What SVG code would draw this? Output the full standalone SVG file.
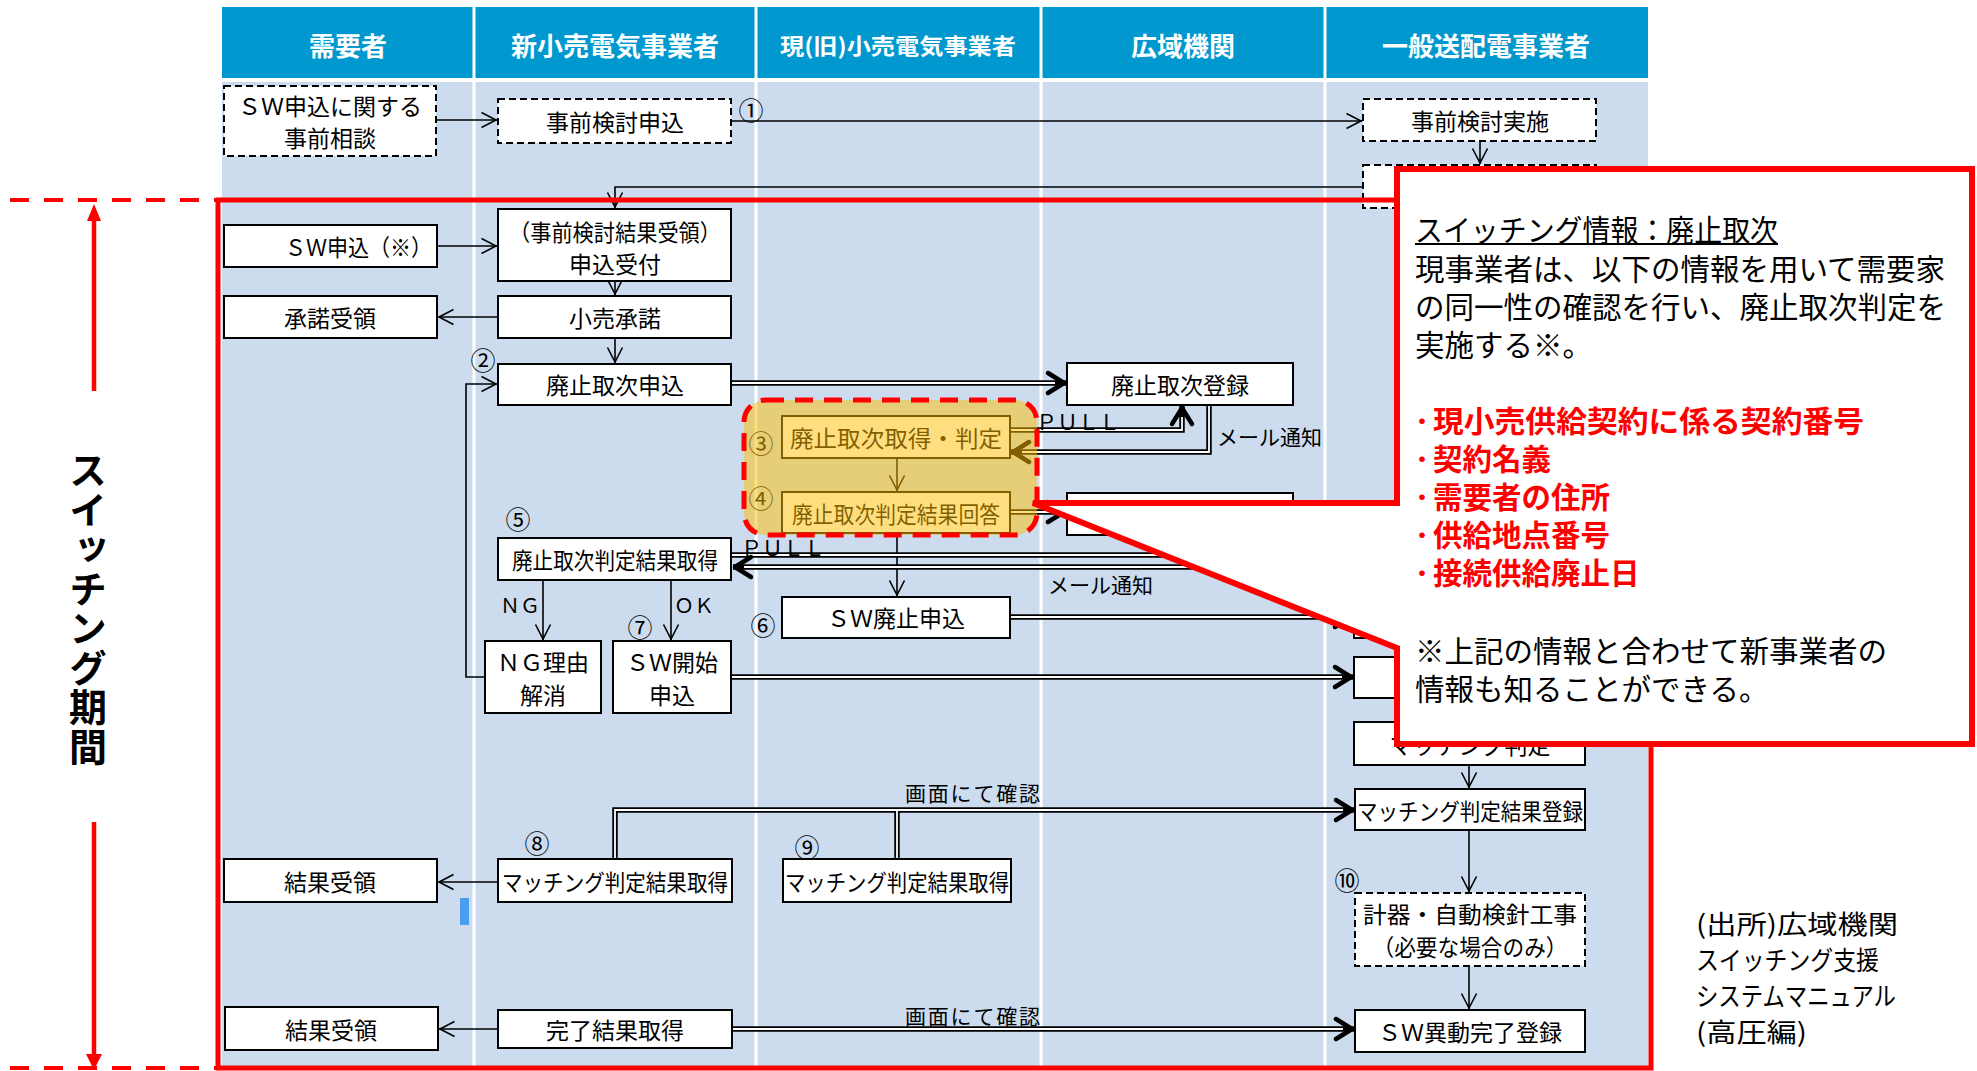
<svg xmlns="http://www.w3.org/2000/svg" width="1977" height="1071" viewBox="0 0 1977 1071">
<defs>
<style>
text{font-family:"Noto Sans CJK JP","Noto Sans",sans-serif;}
.t{font-size:23px;fill:#000;text-anchor:middle;dominant-baseline:central}
.tl{font-size:21px;fill:#000;dominant-baseline:central}
.c{font-size:25px;fill:#000;text-anchor:middle;dominant-baseline:central}
.hd{font-size:26px;font-weight:bold;fill:#fff;text-anchor:middle;dominant-baseline:central}
.bx{fill:#fff;stroke:#000;stroke-width:2}
.dx{fill:#fff;stroke:#000;stroke-width:2;stroke-dasharray:7 4}
.ln{fill:none;stroke:#000;stroke-width:1.6;marker-end:url(#ah)}
.db{fill:none;stroke:#000;stroke-width:5.5}
.dw{fill:none;stroke:#fff;stroke-width:1.8}
.sep{stroke:#fff;stroke-width:3}
.co{font-size:29.5px;fill:#000;dominant-baseline:central}
.cr{font-size:29.5px;font-weight:bold;fill:#f00;dominant-baseline:central}
.dot{font-size:22px}
.src{font-size:26px;fill:#000;dominant-baseline:central}
.lbl{font-size:38px;font-weight:bold;fill:#000;writing-mode:vertical-rl;letter-spacing:1.5px}
</style>
<marker id="ah" markerUnits="userSpaceOnUse" markerWidth="20" markerHeight="20" refX="16" refY="8" orient="auto" overflow="visible">
<path d="M0.5,0.5 L15,8 L0.5,15.5" fill="none" stroke="#000" stroke-width="1.6"/>
</marker>
<marker id="ab" markerUnits="userSpaceOnUse" markerWidth="26" markerHeight="26" refX="19" refY="11" orient="auto" overflow="visible">
<path d="M1,1 L17,11 L1,21" fill="none" stroke="#000" stroke-width="4.5" stroke-linecap="round" stroke-linejoin="round"/>
</marker>
</defs>

<rect x="0" y="0" width="1977" height="1071" fill="#fff"/>

<g id="lanes">
<rect x="222" y="7" width="1426" height="71" fill="#0098CE"/>
<rect x="222" y="82" width="1426" height="986" fill="#CCDCEE"/>
<path class="sep" d="M474,7 V1068 M756,7 V1068 M1041,7 V1068 M1325,7 V1068"/>
<text class="hd" x="348" y="44">需要者</text>
<text class="hd" x="615" y="44">新小売電気事業者</text>
<text class="hd" x="898" y="44" style="font-size:22px" textLength="236" lengthAdjust="spacingAndGlyphs">現(旧)小売電気事業者</text>
<text class="hd" x="1183" y="44">広域機関</text>
<text class="hd" x="1486" y="44">一般送配電事業者</text>
</g>

<g id="connectors">
<path class="ln" d="M437,120 H497"/>
<path class="ln" d="M731,121 H1362"/>
<path class="ln" d="M1480,141 V164"/>
<path class="ln" d="M1363,187 H615 V208"/>
<path class="ln" d="M437,246 H497"/>
<path class="ln" d="M615,281 V295"/>
<path class="ln" d="M498,317 H438"/>
<path class="ln" d="M615,338 V363"/>
<path class="ln" d="M485,677 H466 V384 H497"/>
<path class="ln" d="M543,580 V640"/>
<path class="ln" d="M671,580 V640"/>
<path class="ln" d="M897,458 V491"/>
<path class="ln" d="M897,533 V596"/>
<path class="ln" d="M498,882 H438"/>
<path class="ln" d="M1469,765 V788"/>
<path class="ln" d="M1469,830 V892"/>
<path class="ln" d="M1469,966 V1009"/>
<path class="ln" d="M498,1029 H439"/>

<path class="db" marker-end="url(#ab)" d="M732,383 H1066"/><path class="dw" d="M732,383 H1055"/>
<path class="db" marker-end="url(#ab)" d="M1010,430 H1182 V406"/><path class="dw" d="M1010,430 H1182 V417"/>
<path class="db" marker-end="url(#ab)" d="M1209,405 V452 H1011"/><path class="dw" d="M1209,405 V452 H1022"/>
<path class="db" marker-end="url(#ab)" d="M1010,512 H1066"/><path class="dw" d="M1010,512 H1055"/>
<path class="db" d="M1420,555 H732"/><path class="dw" d="M1420,555 H732"/>
<path class="db" marker-end="url(#ab)" d="M1420,567 H733"/><path class="dw" d="M1420,567 H744"/>
<path class="db" marker-end="url(#ab)" d="M1010,617 H1353"/><path class="dw" d="M1010,617 H1342"/>
<path class="db" marker-end="url(#ab)" d="M731,677 H1353"/><path class="dw" d="M731,677 H1342"/>
<path class="db" marker-end="url(#ab)" d="M615,859 V810 H1354"/><path class="db" d="M897,859 V810"/>
<path class="dw" d="M615,859 V810 H1343"/><path class="dw" d="M897,859 V810"/>
<path class="db" marker-end="url(#ab)" d="M732,1029 H1354"/><path class="dw" d="M732,1029 H1343"/>
</g>

<g id="n1"><rect class="dx" x="224" y="86" width="212" height="70"/><text class="t" x="330" y="105">ＳＷ申込に関する</text><text class="t" x="330" y="137">事前相談</text></g>
<g id="n2"><rect class="dx" x="498" y="99" width="233" height="44"/><text class="t" x="615" y="121">事前検討申込</text></g>
<g id="n3"><rect class="dx" x="1363" y="99" width="233" height="42"/><text class="t" x="1480" y="120">事前検討実施</text></g>
<g id="n4"><rect class="dx" x="1363" y="165" width="233" height="43"/></g>
<g id="n5"><rect class="bx" x="224" y="225" width="213" height="42"/><text class="t" x="285" y="246" style="text-anchor:start" textLength="147" lengthAdjust="spacingAndGlyphs">ＳＷ申込（※）</text></g>
<g id="n6"><rect class="bx" x="498" y="209" width="233" height="72"/><text class="t" x="615" y="231" textLength="212" lengthAdjust="spacingAndGlyphs">（事前検討結果受領）</text><text class="t" x="615" y="263">申込受付</text></g>
<g id="n7"><rect class="bx" x="224" y="296" width="213" height="42"/><text class="t" x="330" y="317">承諾受領</text></g>
<g id="n8"><rect class="bx" x="498" y="296" width="233" height="42"/><text class="t" x="615" y="317">小売承諾</text></g>
<g id="n9"><rect class="bx" x="498" y="364" width="233" height="41"/><text class="t" x="615" y="384">廃止取次申込</text></g>
<g id="n10"><rect class="bx" x="1067" y="363" width="226" height="42"/><text class="t" x="1180" y="384">廃止取次登録</text></g>
<g id="n11"><rect class="bx" x="782" y="416" width="228" height="42"/><text class="t" x="896" y="437" textLength="212" lengthAdjust="spacingAndGlyphs">廃止取次取得・判定</text></g>
<g id="n12"><rect class="bx" x="782" y="492" width="228" height="41"/><text class="t" x="896" y="513" textLength="208" lengthAdjust="spacingAndGlyphs">廃止取次判定結果回答</text></g>
<g id="n13"><rect class="bx" x="1067" y="493" width="226" height="42"/></g>
<g id="n14"><rect class="bx" x="498" y="538" width="233" height="42"/><text class="t" x="615" y="559" textLength="206" lengthAdjust="spacingAndGlyphs">廃止取次判定結果取得</text></g>
<g id="n15"><rect class="bx" x="782" y="597" width="228" height="41"/><text class="t" x="896" y="617">ＳＷ廃止申込</text></g>
<g id="n16"><rect class="bx" x="1354" y="597" width="231" height="41"/></g>
<g id="n17"><rect class="bx" x="485" y="641" width="116" height="72"/><text class="t" x="543" y="661">ＮＧ理由</text><text class="t" x="543" y="694">解消</text></g>
<g id="n18"><rect class="bx" x="613" y="641" width="118" height="72"/><text class="t" x="672" y="661">ＳＷ開始</text><text class="t" x="672" y="694">申込</text></g>
<g id="n19"><rect class="bx" x="1354" y="657" width="231" height="41"/></g>
<g id="n20"><rect class="bx" x="1354" y="722" width="231" height="43"/><text class="t" x="1470" y="744">マッチング判定</text></g>
<g id="n21"><rect class="bx" x="1355" y="789" width="230" height="41"/><text class="t" x="1470" y="810" textLength="226" lengthAdjust="spacingAndGlyphs">マッチング判定結果登録</text></g>
<g id="n22"><rect class="bx" x="498" y="859" width="234" height="43"/><text class="t" x="615" y="881" textLength="226" lengthAdjust="spacingAndGlyphs">マッチング判定結果取得</text></g>
<g id="n23"><rect class="bx" x="224" y="859" width="213" height="43"/><text class="t" x="330" y="881">結果受領</text></g>
<g id="n24"><rect class="bx" x="783" y="859" width="228" height="43"/><text class="t" x="897" y="881" textLength="224" lengthAdjust="spacingAndGlyphs">マッチング判定結果取得</text></g>
<g id="n25"><rect class="dx" x="1355" y="893" width="230" height="73"/><text class="t" x="1470" y="913" textLength="214" lengthAdjust="spacingAndGlyphs">計器・自動検針工事</text><text class="t" x="1470" y="946" textLength="195" lengthAdjust="spacingAndGlyphs">（必要な場合のみ）</text></g>
<g id="n26"><rect class="bx" x="1355" y="1010" width="230" height="42"/><text class="t" x="1470" y="1031">ＳＷ異動完了登録</text></g>
<g id="n27"><rect class="bx" x="498" y="1010" width="234" height="38"/><text class="t" x="615" y="1029">完了結果取得</text></g>
<g id="n28"><rect class="bx" x="225" y="1007" width="213" height="43"/><text class="t" x="331" y="1029">結果受領</text></g>

<g id="labels">
<text class="c" x="751" y="109">①</text>
<text class="c" x="483" y="359">②</text>
<text class="c" x="761" y="442">③</text>
<text class="c" x="761" y="497">④</text>
<text class="c" x="518" y="518">⑤</text>
<text class="c" x="763" y="624">⑥</text>
<text class="c" x="640" y="626">⑦</text>
<text class="c" x="537" y="842">⑧</text>
<text class="c" x="807" y="846">⑨</text>
<text class="c" x="1347" y="879">⑩</text>
<text class="tl" x="1036" y="421">ＰＵＬＬ</text>
<text class="tl" x="741" y="547">ＰＵＬＬ</text>
<text class="tl" x="1217" y="436">メール通知</text>
<text class="tl" x="1048" y="584">メール通知</text>
<text class="tl" x="500" y="604" style="font-size:20px">ＮＧ</text>
<text class="tl" x="674" y="604" style="font-size:20px">ＯＫ</text>
<text class="tl" x="905" y="792" textLength="135">画面にて確認</text>
<text class="tl" x="905" y="1015" textLength="135">画面にて確認</text>
<rect x="460" y="898" width="9" height="27" fill="#4A9EF2"/>
</g>

<g id="highlight">
<rect x="744" y="400" width="293" height="135" rx="22" fill="#FFBE00" fill-opacity="0.5"/>
<rect x="744" y="400" width="293" height="135" rx="22" fill="none" stroke="#f00" stroke-width="5" stroke-dasharray="18 11"/>
</g>

<g id="period">
<rect x="218" y="200" width="1433" height="868" fill="none" stroke="#f00" stroke-width="5"/>
<path d="M10,200 H216 M10,1068 H216" fill="none" stroke="#f00" stroke-width="4" stroke-dasharray="19 15"/>
<path d="M94,391 V218 M94,822 V1056" fill="none" stroke="#f00" stroke-width="4.5"/>
<path d="M94,204 L87,221 L101,221 Z M94,1070 L86,1054 L102,1054 Z" fill="#f00"/>
<text class="lbl" x="88" y="451">スイッチング期間</text>
</g>

<g id="callout">
<path d="M1397,169 H1972 V744 H1397 V648 L1033,503 H1397 Z" fill="#fff" stroke="#f00" stroke-width="6" stroke-linejoin="miter"/>
<text class="co" x="1415" y="228" textLength="363" lengthAdjust="spacingAndGlyphs">スイッチング情報：廃止取次</text>
<line x1="1415" y1="244" x2="1778" y2="244" stroke="#000" stroke-width="1.8"/>
<text class="co" x="1415" y="267">現事業者は、以下の情報を用いて需要家</text>
<text class="co" x="1415" y="305">の同一性の確認を行い、廃止取次判定を</text>
<text class="co" x="1415" y="343">実施する※。</text>
<text class="cr"><tspan class="dot" x="1411" y="419">・</tspan><tspan x="1433" y="419" textLength="431" lengthAdjust="spacingAndGlyphs">現小売供給契約に係る契約番号</tspan></text>
<text class="cr"><tspan class="dot" x="1411" y="457">・</tspan><tspan x="1433" y="457">契約名義</tspan></text>
<text class="cr"><tspan class="dot" x="1411" y="495">・</tspan><tspan x="1433" y="495">需要者の住所</tspan></text>
<text class="cr"><tspan class="dot" x="1411" y="533">・</tspan><tspan x="1433" y="533">供給地点番号</tspan></text>
<text class="cr"><tspan class="dot" x="1411" y="571">・</tspan><tspan x="1433" y="571">接続供給廃止日</tspan></text>
<text class="co" x="1415" y="649">※上記の情報と合わせて新事業者の</text>
<text class="co" x="1415" y="687">情報も知ることができる。</text>
</g>

<g id="source">
<text class="src" x="1696" y="922" textLength="202" lengthAdjust="spacingAndGlyphs">(出所)広域機関</text>
<text class="src" x="1696" y="958" textLength="183" lengthAdjust="spacingAndGlyphs">スイッチング支援</text>
<text class="src" x="1696" y="994" textLength="200" lengthAdjust="spacingAndGlyphs">システムマニュアル</text>
<text class="src" x="1696" y="1030" textLength="111" lengthAdjust="spacingAndGlyphs">(高圧編)</text>
</g>
</svg>
